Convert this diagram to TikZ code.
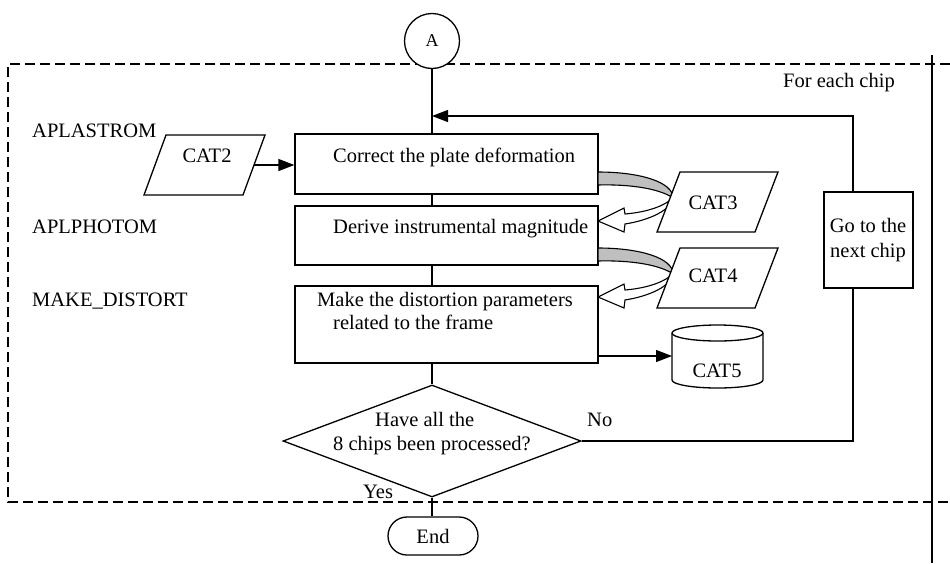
\documentclass[tikz,border=0pt]{standalone}
\usepackage{fontspec}
\setmainfont{Liberation Serif}
\usetikzlibrary{shapes.geometric,arrows.meta}
\begin{document}
\begin{tikzpicture}[x=1pt,y=-1pt,
  every node/.style={font=\fontsize{20.5}{24}\selectfont},
  line/.style={line width=1.3pt},
  box/.style={draw,line width=1.3pt,rectangle,inner sep=0pt,fill=white},
  lbl/.style={inner sep=0pt,anchor=base west},
  ctr/.style={inner sep=0pt,anchor=base},
  tip/.style={-{Triangle[length=16pt,width=12pt]}},
  frame/.style={line width=1.3pt,dash pattern=on 10pt off 5pt},
  backband/.style={draw,line width=1.1pt,fill=gray!50},
  frontarrow/.style={draw,line width=1.1pt,fill=white},
  datafile/.style={draw,line width=1.3pt,fill=white}
]
\useasboundingbox (0,0) rectangle (950,563);

% loop frame
\draw[frame] (950,64) -- (8,64) -- (8,502) -- (950,502);
\draw[line] (932,55) -- (932,563);
\node[lbl] (loop) at (783,87) {For each chip};

% off-page connector
\node[draw,circle,line width=1.3pt,fill=white,minimum size=55pt,inner sep=0pt,
      font=\fontsize{18}{20}\selectfont] (A) at (432,41) {A};

% program names
\node[lbl] (p1) at (32,137) {APLASTROM};
\node[lbl] (p2) at (32,233) {APLPHOTOM};
\node[lbl] (p3) at (32,306) {MAKE\_DISTORT};

% process boxes
\node[box,minimum width=303pt,minimum height=60pt] (b1) at (446.5,164) {};
\node[box,minimum width=303pt,minimum height=59pt] (b2) at (446.5,235.5) {};
\node[box,minimum width=303pt,minimum height=77pt] (b3) at (446.5,324.5) {};
\node[lbl] (t1) at (333,162) {Correct the plate deformation};
\node[lbl] (t2) at (333,233) {Derive instrumental magnitude};
\node[lbl] (t3a) at (317,306) {Make the distortion parameters};
\node[lbl] (t3b) at (333,329) {related to the frame};

% decision
\node[draw,diamond,line width=1.3pt,minimum width=298pt,minimum height=112pt,
      inner sep=0pt,aspect=2.66] (dec) at (432,441) {};
\node[lbl] (q1) at (375,426) {Have all the};
\node[lbl] (q2) at (333,450) {8 chips been processed?};
\node[lbl] (yes) at (363,498) {Yes};
\node[lbl] (no) at (587,426) {No};

% terminator
\node[draw,rounded corners=19pt,line width=1.3pt,minimum width=90pt,
      minimum height=38pt,inner sep=0pt,fill=white] (end) at (433,536) {End};

% next chip box
\node[box,minimum width=89pt,minimum height=96pt] (next) at (868.5,240) {};
\node[ctr] (n1) at (868,232) {Go to the};
\node[ctr] (n2) at (868,257) {next chip};

% main flow
\draw[line] (A.south) -- (A.south |- b1.north);
\draw[line] (A.south |- b1.south) -- (A.south |- b2.north);
\draw[line] (A.south |- b2.south) -- (A.south |- b3.north);
\draw[line] (A.south |- b3.south) -- (dec.north);
\draw[line] (dec.south) -- (dec.south |- end.north);

% loop back
\coordinate (loopin) at (432,116);
\coordinate (nx) at (853,116);
\draw[line,tip] (nx |- next.north) -- (nx) -- (loopin);
\draw[line] (dec.east) -| (nx |- next.south);

% read / write of the catalogues between steps
\foreach \dy in {0,76}{
  \draw[backband] (598,{172+\dy}) .. controls (640,{172+\dy}) and (673,{182+\dy}) .. (673,{198+\dy})
     .. controls (662,{190+\dy}) and (635,{184+\dy}) .. (598,{185+\dy}) -- cycle;
  \draw[frontarrow] (673,{198+\dy}) .. controls (671,{210+\dy}) and (650,{220+\dy}) .. (625,{224+\dy})
     -- (624,{232+\dy}) -- (598,{221+\dy}) -- (624,{208+\dy}) -- (625,{214+\dy})
     .. controls (648,{212+\dy}) and (664,{206+\dy}) .. (673,{198+\dy}) -- cycle;
}

% input catalogue
\draw[datafile] (166,135) -- (265,135) -- (243,195) -- (144,195) -- cycle;
\node[ctr] (c2) at (207,162) {CAT2};
\coordinate (c2out) at (254,165);
\draw[line,tip] (c2out) -- (b1.west |- c2out);

% intermediate catalogues
\draw[datafile] (680,172) -- (778,172) -- (755,232) -- (657,232) -- cycle;
\node[ctr] (c3) at (713,209) {CAT3};
\draw[datafile] (680,248) -- (778,248) -- (755,308) -- (657,308) -- cycle;
\node[ctr] (c4) at (713,282) {CAT4};

% output catalogue (disk)
\draw[datafile] (672,333) -- (672,380) arc[start angle=180,end angle=0,x radius=45.5,y radius=8]
   -- (763,333) arc[start angle=0,end angle=-180,x radius=45.5,y radius=8] -- cycle;
\draw[line] (672,333) arc[start angle=180,end angle=0,x radius=45.5,y radius=8];
\node[ctr] (c5) at (717,377) {CAT5};
\coordinate (c5w) at (672,356);
\draw[line,tip] (b3.east |- c5w) -- (c5w);
\end{tikzpicture}
\end{document}
